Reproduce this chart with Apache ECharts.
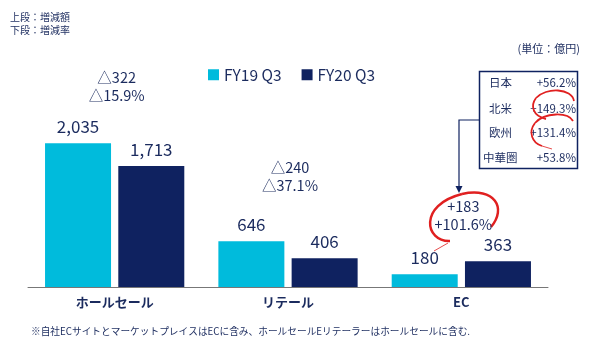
<!DOCTYPE html>
<html>
<head>
<meta charset="utf-8">
<script src="https://cdn.jsdelivr.net/npm/echarts@6/dist/echarts.min.js"></script>
<style>
  html, body { margin: 0; padding: 0; background: #fff; }
  #main { width: 600px; height: 352px; }
</style>
</head>
<body>
<div id="main"></div>
<script>
// data
var categories = ['ホールセール', 'リテール', 'EC'];
var fy19 = [2035, 646, 180];
var fy20 = [1713, 406, 363];
var diffAmount = ['△322', '△240', '+183'];
var diffRate = ['△15.9%', '△37.1%', '+101.6%'];
var regions = ['日本', '北米', '欧州', '中華圏'];
var regionRate = ['+56.2%', '+149.3%', '+131.4%', '+53.8%'];

// where the change notes sit (value-axis level, layout only)
var noteLevel = [2840, 1570, 1015];

var NAVY = '#0f2260';
var TXT = '#1b2b5e';
var CYAN = '#00bbdc';
var RED = '#e02020';
var FONT = '"Noto Sans CJK JP", "Noto Sans", sans-serif';

var chart = echarts.init(document.getElementById('main'));

var notes = categories.map(function (c, i) {
    return { value: noteLevel[i], txt: diffAmount[i] + '\n' + diffRate[i] };
});

// bezier helper for the hand-drawn red marks
function curve(p0, c1, c2, p1, w) {
    return { type: 'bezierCurve',
        shape: { x1: p0[0], y1: p0[1], cpx1: c1[0], cpy1: c1[1], cpx2: c2[0], cpy2: c2[1], x2: p1[0], y2: p1[1] },
        style: { stroke: RED, lineWidth: w, fill: null } };
}
function thin(a, b) {
    return { type: 'line', shape: { x1: a[0], y1: a[1], x2: b[0], y2: b[1] },
        style: { stroke: RED, lineWidth: 0.8 } };
}

// small region table
var tableEls = [{
    type: 'rect', shape: { x: 479.5, y: 71.5, width: 98, height: 97 },
    style: { fill: '#fff', stroke: NAVY, lineWidth: 1.5 }
}];
var rowY = [83, 109, 133, 158];
regions.forEach(function (r, i) {
    tableEls.push({ type: 'text', x: r.length > 2 ? 483 : 489, y: rowY[i],
        style: { text: r, fill: TXT, font: '11.5px ' + FONT, verticalAlign: 'middle' } });
    tableEls.push({ type: 'text', x: 576, y: rowY[i],
        style: { text: regionRate[i], fill: TXT, font: '11.5px ' + FONT, align: 'right', verticalAlign: 'middle' } });
});

var marks = [
    curve([450, 241], [425, 242], [418, 205], [462, 194], 2.5),
    curve([462, 194], [495, 187], [507, 208], [491, 227], 2.5),
    thin([448, 243], [434, 251]),
    curve([574, 101], [572, 88], [546, 87], [536, 98], 1.8),
    curve([536, 98], [530, 106], [533, 116], [546, 119], 1.8),
    curve([573, 121], [568, 112], [545, 112], [535, 123], 1.8),
    curve([535, 123], [528, 132], [532, 143], [542, 146], 1.8),
    thin([542, 146], [552, 149])
];

var option = {
    animation: false,
    textStyle: { fontFamily: FONT },
    legend: {
        left: 203, top: 62,
        itemWidth: 11, itemHeight: 11, itemGap: 20,
        icon: 'rect',
        textStyle: { fontSize: 15.5, color: TXT, fontFamily: FONT },
        data: ['FY19 Q3', 'FY20 Q3']
    },
    grid: { left: 28, right: 52, top: 75, bottom: 65 },
    xAxis: {
        type: 'category',
        data: categories,
        axisTick: { show: false },
        axisLine: { lineStyle: { color: '#777', width: 1 } },
        axisLabel: { color: TXT, fontSize: 13, fontWeight: 'bold', margin: 9, fontFamily: FONT }
    },
    yAxis: { type: 'value', min: 0, max: 3000, show: false, splitLine: { show: false } },
    series: [{
        name: 'FY19 Q3', type: 'bar', data: fy19,
        barWidth: 66, barGap: '11%',
        itemStyle: { color: CYAN },
        label: { show: true, position: 'top', distance: 8, fontSize: 17, color: TXT,
            formatter: function (p) { return p.value.toLocaleString('en-US'); } }
    }, {
        name: 'FY20 Q3', type: 'bar', data: fy20,
        barWidth: 66,
        itemStyle: { color: NAVY },
        label: { show: true, position: 'top', distance: 8, fontSize: 17, color: TXT,
            formatter: function (p) { return p.value.toLocaleString('en-US'); } }
    }, {
        type: 'scatter', symbolSize: 0, silent: true,
        itemStyle: { opacity: 1 },
        data: notes.map(function (n) { return n.value; }),
        label: { show: true, position: 'inside', fontSize: 14.5, lineHeight: 18, color: TXT, opacity: 1,
            offset: [2, 0],
            formatter: function (p) { return notes[p.dataIndex].txt; } }
    }],
    graphic: [
        { type: 'text', left: 10, top: 11,
          style: { text: '上段：増減額\n下段：増減率', fill: TXT, font: '10px ' + FONT, lineHeight: 13 } },
        { type: 'text', right: 20, top: 43,
          style: { text: '(単位：億円)', fill: TXT, font: '11px ' + FONT } },
        { type: 'text', left: 31, top: 326,
          style: { text: '※自社ECサイトとマーケットプレイスはECに含み、ホールセールEリテーラーはホールセールに含む.', fill: TXT, font: '9.7px ' + FONT } },
        // arrow from table to EC note
        { type: 'polyline', shape: { points: [[479, 120], [459, 120], [459, 188]] },
          style: { stroke: NAVY, lineWidth: 1.2, fill: null } },
        { type: 'polygon', shape: { points: [[455.5, 186], [462.5, 186], [459, 193]] },
          style: { fill: NAVY } }
    ].concat(tableEls).concat(marks)
};

chart.setOption(option);
</script>
</body>
</html>
